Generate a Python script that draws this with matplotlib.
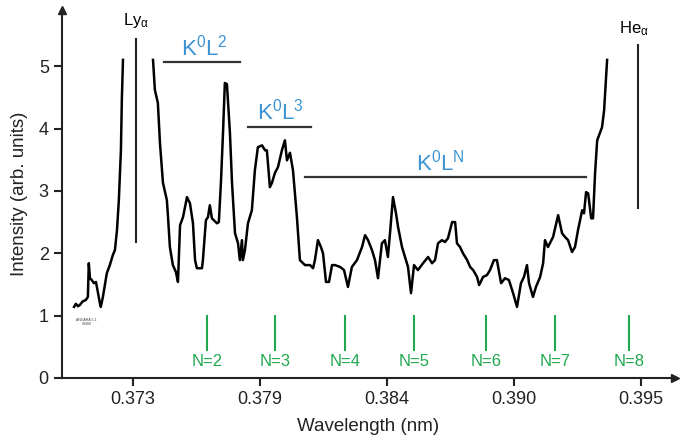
import matplotlib.pyplot as plt

plt.rcParams["font.family"] = ["Liberation Sans", "DejaVu Sans"]

# spectrum left of Ly-alpha (nm, arb. units)
wl_left = [0.37095, 0.37103, 0.37112, 0.37120, 0.37133, 0.37146, 0.37155, 0.37159,
           0.37164, 0.37172, 0.37181, 0.37190, 0.37198, 0.37207, 0.37211, 0.37220,
           0.37237, 0.37250, 0.37263, 0.37272, 0.37281, 0.37289, 0.37298, 0.37302,
           0.37307]
int_left = [1.14, 1.19, 1.15, 1.17, 1.23, 1.25, 1.30, 1.84,
            1.60, 1.57, 1.52, 1.54, 1.38, 1.20, 1.14, 1.30,
            1.68, 1.81, 1.97, 2.05, 2.37, 2.85, 3.65, 4.46,
            5.10]

# spectrum between Ly-alpha and He-alpha
wl_main = [0.37437, 0.37445, 0.37458, 0.37467, 0.37480, 0.37497, 0.37502, 0.37510,
           0.37523, 0.37536, 0.37545, 0.37554, 0.37567, 0.37584, 0.37597, 0.37610,
           0.37619, 0.37627, 0.37649, 0.37653, 0.37666, 0.37675, 0.37683, 0.37692,
           0.37714, 0.37722, 0.37731, 0.37740, 0.37748, 0.37757, 0.37770, 0.37779,
           0.37792, 0.37805, 0.37813, 0.37822, 0.37826, 0.37835, 0.37848, 0.37865,
           0.37878, 0.37891, 0.37909, 0.37922, 0.37930, 0.37943, 0.37952, 0.37965,
           0.37978, 0.37995, 0.38008, 0.38017, 0.38030, 0.38043, 0.38060, 0.38073,
           0.38095, 0.38117, 0.38130, 0.38138, 0.38151, 0.38164, 0.38173, 0.38186,
           0.38199, 0.38212, 0.38225, 0.38247, 0.38264, 0.38281, 0.38298, 0.38320,
           0.38342, 0.38355, 0.38368, 0.38385, 0.38398, 0.38411, 0.38428, 0.38441,
           0.38454, 0.38463, 0.38476, 0.38489, 0.38498, 0.38515, 0.38528, 0.38541,
           0.38554, 0.38567, 0.38584, 0.38606, 0.38628, 0.38645, 0.38658, 0.38671,
           0.38688, 0.38701, 0.38714, 0.38732, 0.38745, 0.38753, 0.38766, 0.38779,
           0.38797, 0.38810, 0.38823, 0.38840, 0.38849, 0.38866, 0.38883, 0.38896,
           0.38913, 0.38926, 0.38944, 0.38961, 0.38978, 0.38996, 0.39013, 0.39030,
           0.39043, 0.39056, 0.39065, 0.39082, 0.39095, 0.39113, 0.39126, 0.39134,
           0.39147, 0.39169, 0.39191, 0.39208, 0.39221, 0.39234, 0.39251, 0.39264,
           0.39277, 0.39295, 0.39303, 0.39312, 0.39321, 0.39334, 0.39342, 0.39351,
           0.39360, 0.39381, 0.39390, 0.39403]
int_main = [5.10, 4.62, 4.41, 3.77, 3.13, 2.85, 2.58, 2.10,
            1.81, 1.70, 1.54, 2.45, 2.58, 2.90, 2.80, 2.48,
            1.89, 1.76, 1.76, 1.89, 2.53, 2.58, 2.77, 2.56,
            2.48, 2.50, 3.13, 3.93, 4.73, 4.71, 3.93, 3.13,
            2.32, 2.16, 1.89, 2.21, 1.89, 2.05, 2.48, 2.69,
            3.33, 3.70, 3.73, 3.65, 3.65, 3.06, 3.13, 3.29,
            3.38, 3.65, 3.81, 3.49, 3.61, 3.33, 2.58, 1.89,
            1.81, 1.81, 1.76, 1.89, 2.21, 2.10, 2.00, 1.54,
            1.54, 1.81, 1.81, 1.78, 1.73, 1.46, 1.78, 1.89,
            2.10, 2.29, 2.21, 2.05, 1.89, 1.60, 2.16, 2.21,
            1.94, 2.32, 2.90, 2.64, 2.42, 2.10, 1.94, 1.78,
            1.36, 1.81, 1.73, 1.84, 1.94, 1.84, 1.89, 2.16,
            2.21, 2.18, 2.24, 2.50, 2.50, 2.16, 2.10, 2.00,
            1.89, 1.78, 1.73, 1.62, 1.49, 1.62, 1.65, 1.73,
            1.89, 1.89, 1.52, 1.60, 1.57, 1.36, 1.14, 1.52,
            1.62, 1.81, 1.52, 1.30, 1.46, 1.62, 1.84, 2.21,
            2.10, 2.26, 2.61, 2.32, 2.26, 2.21, 2.02, 2.10,
            2.37, 2.69, 2.64, 2.98, 2.96, 2.56, 2.56, 3.29,
            3.81, 4.02, 4.29, 5.10]

# reference lines: (position, bottom, top)
ly_line = (0.37363, 2.18, 5.43)
he_line = (0.39537, 2.72, 5.34)

# K0L^n brackets: (start, end, height, label, label x, label y)
brackets = [
    (0.37486, 0.37815, 5.07, r"$\mathregular{K^0L^2}$", 0.37660, 5.30),
    (0.37850, 0.38123, 4.03, r"$\mathregular{K^0L^3}$", 0.37990, 4.27),
    (0.38097, 0.39310, 3.22, r"$\mathregular{K^0L^N}$", 0.38680, 3.46),
]

# Rydberg series markers
n_labels = ["N=2", "N=3", "N=4", "N=5", "N=6", "N=7", "N=8"]
n_pos = [0.37670, 0.37965, 0.38268, 0.38567, 0.38879, 0.39178, 0.39498]

tick_pos = [0.3735, 0.3790, 0.3845, 0.3900, 0.3955]
tick_lbl = ["0.373", "0.379", "0.384", "0.390", "0.395"]

BLUE = "#3a93d3"
GREEN = "#1fa84f"

fig = plt.figure(figsize=(6.83, 4.42), dpi=100)
ax = fig.add_axes([0.0908, 0.1448, 0.8975, 0.8326])

ax.plot(wl_left, int_left, color="black", lw=1.8)
ax.plot(wl_main, int_main, color="black", lw=1.8)

for pos, lo, hi in (ly_line, he_line):
    ax.plot([pos, pos], [lo, hi], color="#222222", lw=1.5)
ax.text(ly_line[0], 5.58, r"$\mathregular{Ly_{\alpha}}$", ha="center", va="bottom", fontsize=12)
ax.text(he_line[0] - 0.0002, 5.45, r"$\mathregular{He_{\alpha}}$", ha="center", va="bottom", fontsize=12)

for x0, x1, h, lbl, lx, ly in brackets:
    ax.plot([x0, x1], [h, h], color="#333333", lw=1.6)
    ax.text(lx, ly, lbl, color=BLUE, ha="center", va="center", fontsize=16)

for lbl, p in zip(n_labels, n_pos):
    ax.plot([p, p], [0.45, 1.0], color=GREEN, lw=1.5)
    ax.text(p, 0.26, lbl, color=GREEN, ha="center", va="center", fontsize=12)

ax.text(0.37150, 0.90, "ANGARA 5-1\n#3408", fontsize=2.5, ha="center", va="center",
        color="#444444", linespacing=1.0)

ax.set_xlim(0.37043, 0.39697)
ax.set_ylim(0, 5.9)
ax.set_xticks(tick_pos)
ax.set_xticklabels(tick_lbl)
ax.set_yticks([0, 1, 2, 3, 4, 5])
ax.tick_params(direction="out", length=6, width=1.5, labelsize=13, colors="#222222")
ax.set_xlabel("Wavelength (nm)", fontsize=13.5, color="#222222", labelpad=7)
ax.set_ylabel("Intensity (arb. units)", fontsize=13.5, color="#222222", labelpad=8)

for side in ("top", "right"):
    ax.spines[side].set_visible(False)
for side in ("left", "bottom"):
    ax.spines[side].set_linewidth(1.5)
    ax.spines[side].set_color("#222222")
ax.plot(1, 0, ">", color="#222222", ms=6, transform=ax.transAxes, clip_on=False)
ax.plot(0, 1, "^", color="#222222", ms=6, transform=ax.transAxes, clip_on=False)

fig.savefig("out.png", dpi=100)
